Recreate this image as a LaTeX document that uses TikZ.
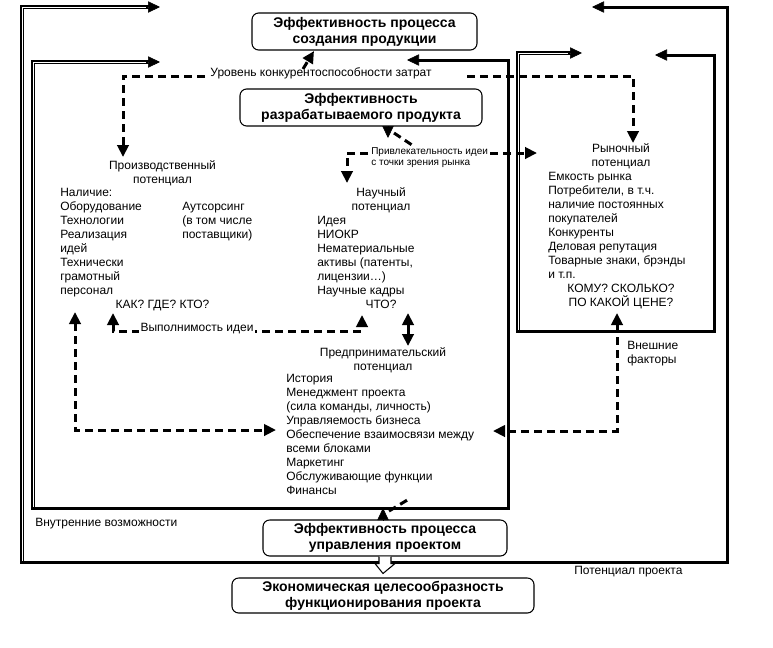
\documentclass[tikz,border=0pt]{standalone}
\usepackage{fontspec}
\setmainfont{Liberation Sans}
\usetikzlibrary{arrows.meta,calc}
\tikzset{
  tx/.style={font=\fontsize{9}{10.5}\selectfont, inner sep=0pt, align=left, anchor=north west},
  tc/.style={font=\fontsize{9}{10.5}\selectfont, inner sep=0pt, align=center, anchor=north},
  ts/.style={font=\fontsize{7.5}{8.25}\selectfont, inner sep=0pt, align=left, anchor=north west},
  bx/.style={draw, rounded corners=5pt, line width=0.8pt, font=\bfseries\fontsize{10.5}{12}\selectfont, align=center, inner sep=1pt},
  thk/.style={line width=2.25pt},
  dbl/.style={double, double distance=0.5pt, line width=1.3pt},
  dsh/.style={line width=2.25pt, dash pattern=on 6pt off 3.75pt},
  arrend/.style={-{Triangle[length=9pt,width=8.5pt]}},
  arrboth/.style={{Triangle[length=9pt,width=8.5pt]}-{Triangle[length=9pt,width=8.5pt]}},
}
\begin{document}
\begin{tikzpicture}[x=0.75pt,y=-0.75pt]
\useasboundingbox (0,0) rectangle (773,647);

% boxes
\node[bx, minimum width=168.75pt, minimum height=27.75pt] (eprod) at (364.5,31.5) {Эффективность процесса\\создания продукции};
\node[bx, minimum width=181.5pt, minimum height=27.75pt] (eprd) at (361,107.5) {Эффективность\\разрабатываемого продукта};
\node[bx, minimum width=183pt, minimum height=27pt] (emgmt) at (385,538) {Эффективность процесса\\управления проектом};
\node[bx, minimum width=226.5pt, minimum height=26.25pt] (econ) at (383,595.5) {Экономическая целесообразность\\функционирования проекта};

% outer frame
\coordinate (o1) at (22,563.5);
\coordinate (o2) at (22,7);
\coordinate (o3) at (160,7);
\coordinate (o4) at (727,562);
\coordinate (o5) at (727,7);
\coordinate (o6) at (592,7);
\draw[dbl] (o1) -- (o2) -- ($(o3)+(-10,0)$);
\draw[arrend] ($(o3)+(-14,0)$) -- (o3);
\draw[thk] (22,562) -- (o4) -- (o5) -- ($(o6)+(10,0)$);
\draw[arrend] ($(o6)+(14,0)$) -- (o6);

% inner frame
\coordinate (i1) at (33,509.5);
\coordinate (i2) at (33,62);
\coordinate (i3) at (160,62);
\coordinate (i4) at (508,508);
\coordinate (i5) at (508,60);
\coordinate (i6) at (407,60);
\draw[dbl] (i1) -- (i2) -- ($(i3)+(-10,0)$);
\draw[arrend] ($(i3)+(-14,0)$) -- (i3);
\draw[thk] (33,508) -- (i4) -- (i5) -- ($(i6)+(10,0)$);
\draw[arrend] ($(i6)+(14,0)$) -- (i6);

% market frame
\coordinate (m1) at (518,332.5);
\coordinate (m2) at (518,53);
\coordinate (m3) at (582,53);
\coordinate (m4) at (714,331);
\coordinate (m5) at (714,55);
\coordinate (m6) at (655,55);
\draw[dbl] (m1) -- (m2) -- ($(m3)+(-10,0)$);
\draw[arrend] ($(m3)+(-14,0)$) -- (m3);
\draw[thk] (518,331) -- (m4) -- (m5) -- ($(m6)+(10,0)$);
\draw[arrend] ($(m6)+(14,0)$) -- (m6);

% texts
\node[tc] (lvl) at (321,67) {Уровень конкурентоспособности затрат};
\node[tc] (prodT) at (162.5,160) {Производственный\\потенциал};
\node[tx] (prodL) at (60,188) {Наличие:\\Оборудование\\Технологии\\Реализация\\идей\\Технически\\грамотный\\персонал};
\node[tx] (prodO) at (182,202) {Аутсорсинг\\(в том числе\\поставщики)};
\node[tc] (prodQ) at (162.5,300) {КАК? ГДЕ? КТО?};
\node[tc] (sciT) at (381,187) {Научный\\потенциал};
\node[tx] (sciL) at (317,216) {Идея\\НИОКР\\Нематериальные\\активы (патенты,\\лицензии…)\\Научные кадры};
\node[tc] (sciQ) at (381,300) {ЧТО?};
\node[tc] (entT) at (383,347) {Предпринимательский\\потенциал};
\node[tx] (entL) at (286,374) {История\\Менеджмент проекта\\(сила команды, личность)\\Управляемость бизнеса\\Обеспечение взаимосвязи между\\всеми блоками\\Маркетинг\\Обслуживающие функции\\Финансы};
\node[tc] (mktT) at (621,143) {Рыночный\\потенциал};
\node[tx] (mktL) at (548,172) {Емкость рынка\\Потребители, в т.ч.\\наличие постоянных\\покупателей\\Конкуренты\\Деловая репутация\\Товарные знаки, брэнды\\и т.п.};
\node[tc] (mktQ) at (621,284) {КОМУ? СКОЛЬКО?\\ПО КАКОЙ ЦЕНЕ?};
\node[tx] (ext) at (627,341) {Внешние\\факторы};
\node[tx] (inner) at (35,518) {Внутренние возможности};
\node[tx] (outer) at (574,566) {Потенциал проекта};
\node[ts] (attr) at (371,147) {Привлекательность идеи\\с точки зрения рынка};

% dashed connectors
\coordinate (u1) at (205,76);
\coordinate (u2) at (123,157);
\coordinate (u3) at (467,76);
\coordinate (u4) at (633,143);
\draw[dsh, arrend] (u1) -| (u2);
\draw[dsh, arrend] (u3) -| (u4);
\coordinate (u5) at (303,69);
\coordinate (u6) at (314,51);
\draw[dsh, arrend] (u5) -- (u6);

\coordinate (p0) at (388,126);
\coordinate (p1) at (388,138);
\draw[arrend] (p0) -- (p1);
\draw[dsh] (394,133) -- (415,147);
\coordinate (a1) at (368,153);
\coordinate (a2) at (347,183);
\draw[dsh, arrend] (a1) -| (a2);
\coordinate (a3) at (490,153);
\coordinate (a4) at (537,153);
\draw[dsh, arrend] (a3) -- (a4);

\coordinate (v1) at (113,313);
\coordinate (v2) at (362,315);
\draw[dsh, arrboth] (v1) |- (113,331) -- (362,331) -- (v2);
\node[tx, fill=white, inner sep=1pt] (vyp) at (139,322) {Выполнимость идеи};

\coordinate (d1) at (408,313);
\coordinate (d2) at (408,346);
\draw[thk, arrboth] (d1) -- (d2);

\coordinate (l1) at (75,312);
\coordinate (l2) at (276,430);
\draw[dsh, arrboth] (l1) |- (l2);

\coordinate (r1) at (617,313);
\coordinate (r2) at (493,431);
\draw[dsh, arrboth] (r1) |- (r2);

\coordinate (g1) at (383,520);
\coordinate (g2) at (383,508);
\draw[arrend] (g1) -- (g2);
\draw[dsh] (389,511) -- (409,499);

% hollow arrow
\draw[line width=0.8pt, fill=white] ($(emgmt.south)+(-6,0)$) -- ++(0,7) -- ++(-4,0) -- ($(econ.north)+(0,-4)$) -- ($(emgmt.south)+(10,7)$) -- ++(-4,0) -- ($(emgmt.south)+(6,0)$);
\end{tikzpicture}
\end{document}
